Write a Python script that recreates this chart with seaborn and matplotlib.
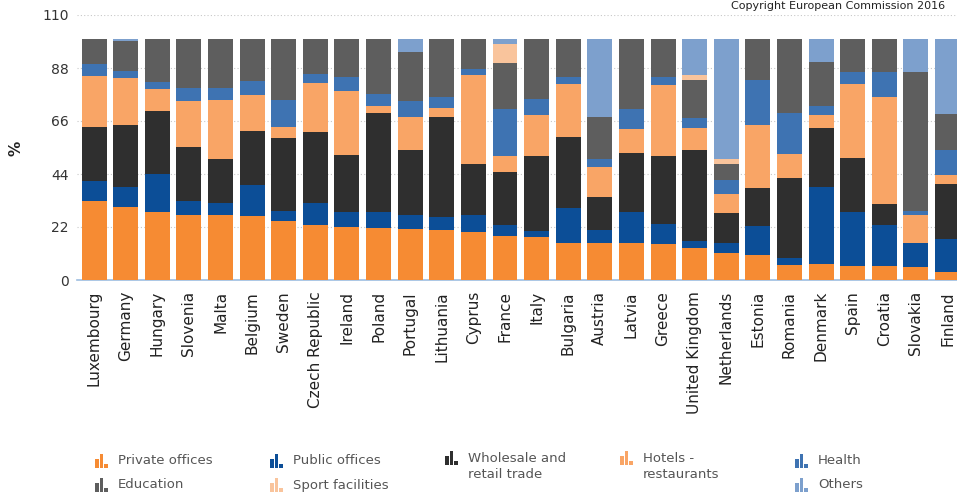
import numpy as np
import matplotlib
matplotlib.use("Agg")
import matplotlib.pyplot as plt
from matplotlib.patches import Rectangle
import seaborn as sns

countries = ["Luxembourg", "Germany", "Hungary", "Slovenia", "Malta", "Belgium", "Sweden",
             "Czech Republic", "Ireland", "Poland", "Portugal", "Lithuania", "Cyprus", "France",
             "Italy", "Bulgaria", "Austria", "Latvia", "Greece", "United Kingdom", "Netherlands",
             "Estonia", "Romania", "Denmark", "Spain", "Croatia", "Slovakia", "Finland"]

private_offices = [33.0, 30.4, 28.1, 27.0, 27.0, 26.5, 24.6, 22.8, 21.8, 21.4, 21.2, 20.7, 20.0, 18.3,
                   17.7, 15.2, 15.2, 15.2, 14.9, 13.1, 11.1, 10.4, 6.2, 6.5, 5.8, 5.8, 5.2, 3.4]
public_offices = [8.2, 8.3, 15.9, 5.9, 4.8, 12.9, 4.2, 9.3, 6.5, 6.9, 5.8, 5.3, 7.0, 4.5,
                  2.6, 14.5, 5.5, 12.9, 8.2, 3.1, 4.4, 12.1, 2.8, 32.2, 22.5, 17.0, 10.0, 13.6]
wholesale = [22.4, 25.6, 26.1, 22.4, 18.4, 22.4, 30.3, 29.2, 23.6, 41.1, 27.0, 41.5, 21.0, 22.2,
             31.2, 29.8, 13.6, 24.5, 28.4, 37.8, 12.2, 15.5, 33.2, 24.2, 22.5, 8.7, 0.0, 22.7]
hotels = [21.1, 19.4, 9.0, 19.1, 24.5, 15.0, 4.5, 20.6, 26.5, 3.0, 13.8, 3.7, 37.1, 6.5,
          17.0, 21.7, 12.7, 10.1, 29.4, 9.2, 8.0, 26.3, 10.1, 5.6, 30.6, 44.6, 11.8, 3.9]
health = [4.8, 3.1, 3.2, 5.2, 4.9, 5.9, 11.1, 3.5, 6.0, 4.8, 6.6, 4.6, 2.3, 19.5,
          6.5, 3.2, 3.1, 8.3, 3.5, 4.2, 5.8, 18.7, 16.9, 3.9, 4.8, 10.1, 1.8, 10.4]
education = [10.5, 12.2, 17.7, 20.4, 20.4, 17.3, 25.3, 14.6, 15.6, 22.8, 20.1, 24.2, 12.6, 18.9,
             25.0, 15.6, 17.7, 29.0, 15.6, 15.6, 6.5, 17.0, 30.8, 18.0, 13.8, 13.8, 57.7, 14.9]
sport = [0, 0, 0, 0, 0, 0, 0, 0, 0, 0, 0, 0, 0, 7.9,
         0, 0, 0, 0, 0, 2.1, 2.2, 0, 0, 0, 0, 0, 0, 0]
others = [0, 1.0, 0, 0, 0, 0, 0, 0, 0, 0, 5.5, 0, 0, 2.2,
          0, 0, 32.2, 0, 0, 14.9, 49.8, 0, 0, 9.6, 0, 0, 13.5, 31.1]

series_names = ["Private offices", "Public offices", "Wholesale and\nretail trade", "Hotels -\nrestaurants",
                "Health", "Education", "Sport facilities", "Others"]
series = [private_offices, public_offices, wholesale, hotels, health, education, sport, others]
colors = ["#F68B33", "#0C4E97", "#2F2F2F", "#F9A566", "#3E73B2", "#5E5E5E", "#F9C49C", "#7DA0CD"]

sns.set_theme(style="white")
plt.rcParams["font.family"] = ["DejaVu Sans"]

fig = plt.figure(figsize=(9.57, 4.95), dpi=100)
W, H = 957, 495
ax = fig.add_axes([77 / W, 1 - 280 / H, 1 - 77 / W, 265 / H])

# stacked bars: draw cumulative totals from the top layer down
cum = np.cumsum(np.array(series), axis=0)
for k in range(len(series) - 1, -1, -1):
    sns.barplot(x=countries, y=cum[k], color=colors[k], saturation=1, width=0.79,
                linewidth=0, ax=ax, zorder=3)

ax.set_ylim(0, 110)
ax.set_yticks([0, 22, 44, 66, 88, 110])
ax.set_xlim(-0.54, 27.3)
ax.yaxis.grid(True, linestyle=(0, (1, 2)), color="#c8c8c8", linewidth=0.8, zorder=0)
ax.xaxis.grid(False)
for s in ["top", "right", "left"]:
    ax.spines[s].set_visible(False)
ax.spines["bottom"].set_color("#9dbde0")
ax.spines["bottom"].set_linewidth(1.2)
ax.tick_params(axis="both", length=0)
ax.tick_params(axis="y", labelsize=10, labelcolor="#333333", pad=6)
ax.tick_params(axis="x", labelsize=11, labelcolor="#222222", pad=8)
plt.setp(ax.get_xticklabels(), rotation=90)
ax.set_xlabel("")
ax.set_ylabel("")
fig.text(16 / W, 1 - 148 / H, "%", rotation=90, fontsize=11, fontweight="bold",
         color="#222222", ha="center", va="center")
fig.text(945 / W, 1 - 6 / H, "Copyright European Commission 2016", fontsize=8,
         color="#222222", ha="right", va="center")

# legend with small bar-chart icons
legend_cols = [95, 270, 445, 620, 795]
legend_rows = [461, 485]
layout = [(0, 0), (1, 0), (2, 0), (3, 0), (4, 0), (0, 1), (1, 1), (4, 1)]
for name, col, (c, r) in zip(series_names, colors, layout):
    x0 = legend_cols[c]
    yb = legend_rows[r] + 7
    if "\n" in name:
        yb = legend_rows[r] + 4
    for dx, hgt in [(0, 9), (4.5, 14), (9, 4)]:
        fig.add_artist(Rectangle(((x0 + dx) / W, 1 - yb / H), 3.5 / W, hgt / H,
                                 color=col, transform=fig.transFigure, lw=0))
    if "\n" in name:
        fig.text((x0 + 23) / W, 1 - (legend_rows[r] - 9) / H, name, fontsize=9.5,
                 color="#555555", ha="left", va="top", linespacing=1.25)
    else:
        fig.text((x0 + 23) / W, 1 - legend_rows[r] / H, name, fontsize=9.5,
                 color="#555555", ha="left", va="center")

fig.savefig("out.png", dpi=100)
